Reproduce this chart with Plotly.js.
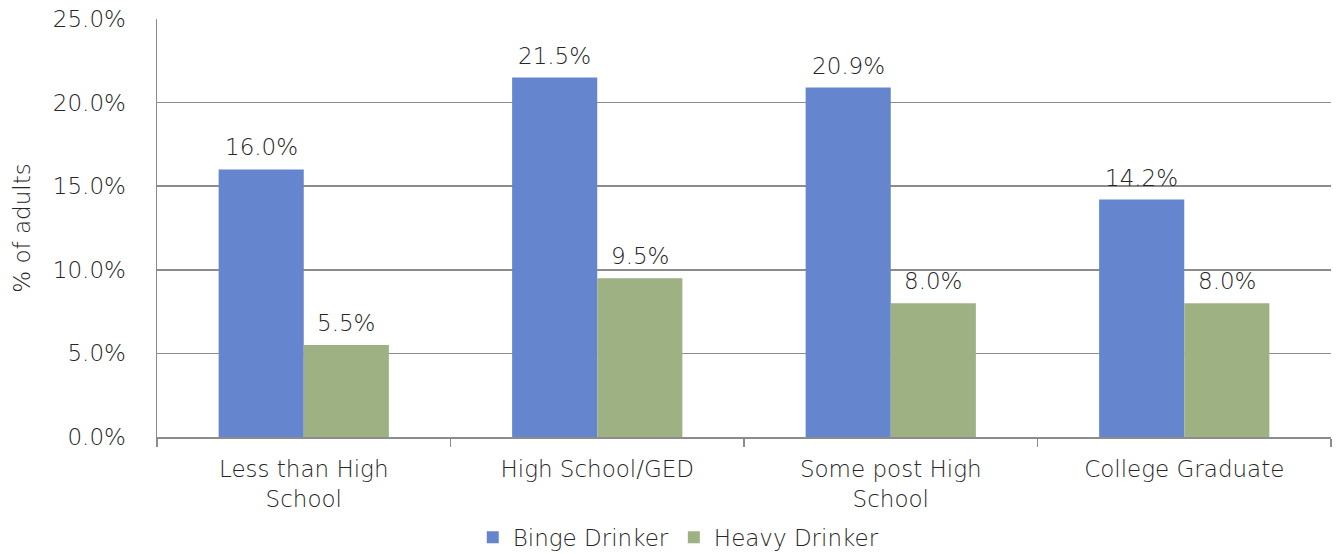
<!DOCTYPE html>
<html>
<head>
<meta charset="utf-8">
<script src="https://cdn.plot.ly/plotly-3.0.1.min.js"></script>
<style>html,body{margin:0;padding:0;background:#fff;}#chart{width:1336px;height:554px;}</style>
</head>
<body>
<div id="chart"></div>
<script>
const categories = ["Less than High<br>School", "High School/GED", "Some post High<br>School", "College Graduate"];
const bingeDrinker = [16.0, 21.5, 20.9, 14.2];
const heavyDrinker = [5.5, 9.5, 8.0, 8.0];
const seriesNames = ["Binge Drinker", "Heavy Drinker"];

const fontFam = "'DejaVu Sans', sans-serif";
const txtColor = "#262626";
const gridColor = "#8c8c8c";
const fs = 23;
const fw = 200;

const traces = [
  {type: "bar", name: seriesNames[0], x: categories, y: bingeDrinker,
   marker: {color: "#6585CF"}, hoverinfo: "none"},
  {type: "bar", name: seriesNames[1], x: categories, y: heavyDrinker,
   marker: {color: "#9DB183"}, hoverinfo: "none"}
];

const annotations = [];
[bingeDrinker, heavyDrinker].forEach((arr, si) => {
  arr.forEach((v, i) => {
    annotations.push({x: categories[i], y: v, xref: "x", yref: "y", text: v.toFixed(1) + "%",
      showarrow: false, yanchor: "bottom", xshift: si === 0 ? -42.5 : 42.5, yshift: 7,
      font: {family: fontFam, size: fs, color: txtColor, weight: fw}});
  });
});

const layout = {
  width: 1336, height: 554,
  margin: {l: 157, r: 5, t: 19, b: 117},
  paper_bgcolor: "#fff", plot_bgcolor: "#fff",
  font: {family: fontFam, size: fs, color: txtColor, weight: fw},
  barmode: "group", bargap: 0.42, bargroupgap: 0,
  showlegend: true,
  annotations: annotations,
  legend: {orientation: "h", xref: "paper", x: 0.444, xanchor: "center", yref: "container", y: 0.03, yanchor: "middle",
           font: {family: fontFam, size: fs, color: txtColor, weight: fw}, itemwidth: 30, traceorder: "normal"},
  xaxis: {showline: true, linecolor: gridColor, linewidth: 1.5, ticks: "outside", tickson: "boundaries",
          ticklen: 8, tickcolor: gridColor, tickwidth: 1.5, showgrid: false, ticklabelstandoff: 11,
          automargin: false,
          tickfont: {family: fontFam, size: fs, color: txtColor, weight: fw}},
  yaxis: {range: [0, 25], dtick: 5, tickformat: ".1f", ticksuffix: "%", showgrid: true,
          gridcolor: gridColor, gridwidth: 1.5, showline: true, linecolor: gridColor, linewidth: 1.5,
          ticks: "", zeroline: false, ticklabelstandoff: 25, automargin: false,
          tickfont: {family: fontFam, size: fs, color: txtColor, weight: fw},
          title: {text: "% of adults", font: {family: fontFam, size: fs, color: txtColor, weight: fw}, standoff: 16}}
};

Plotly.newPlot("chart", traces, layout, {displayModeBar: false, staticPlot: true});
</script>
</body>
</html>
